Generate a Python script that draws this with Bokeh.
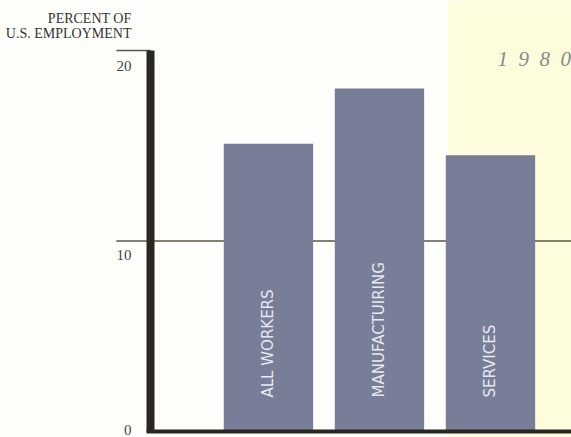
import math
from bokeh.plotting import figure
from bokeh.models import Range1d, BoxAnnotation, Label, ColumnDataSource
from bokeh.core.properties import value
from bokeh.embed import file_html
from bokeh.resources import INLINE

# --- data ---------------------------------------------------------------
categories = ["ALL WORKERS", "MANUFACTUIRING", "SERVICES"]
percent = [15.1, 18.0, 14.5]
tick_values = [0, 10, 20]
tick_labels = ["0", "10", "20"]
panel_year = "1980"
y_title = ["PERCENT OF", "U.S. EMPLOYMENT"]

# --- styling ------------------------------------------------------------
PAPER = "#fefefb"
PANEL = "#fdfcdc"
BAR = "#787d98"
INK = "#2a2622"
RULE = "#5a5446"
SERIF = "Liberation Serif"

# layout in data units (x: one unit per category, y: percent)
X0, X1 = -1.414, 3.730          # horizontal extent of the plot
Y0, Y1 = -0.315, 22.625         # vertical extent of the plot
AXIS_X = -0.0626                # position of the heavy value axis
TICK_X = -0.37                  # outer end of the tick rules
LABEL_X = -0.234                # right edge of tick labels / title
PANEL_LEFT = 2.62               # start of the shaded 1980 panel

xs = list(range(1, len(categories) + 1))
src = ColumnDataSource(dict(x=xs, top=percent, name=categories))

p = figure(width=571, height=437, output_backend="svg", toolbar_location=None,
           x_range=Range1d(X0, X1), y_range=Range1d(Y0, Y1),
           x_axis_location=None, y_axis_location=None,
           min_border=0)
p.background_fill_color = PAPER
p.border_fill_color = PAPER
p.outline_line_color = None
p.grid.visible = False

# shaded panel for the 1980 column
p.add_layout(BoxAnnotation(left=PANEL_LEFT, fill_color=PANEL, fill_alpha=1.0,
                           line_color=None, level="underlay"))

# rules: tick at 20, tick + full-width rule at 10
max_tick = max(tick_values)
p.segment(x0=[TICK_X], y0=[max_tick], x1=[AXIS_X], y1=[max_tick],
          line_color=RULE, line_width=1.5)
p.segment(x0=[TICK_X], y0=[10], x1=[X1], y1=[10],
          line_color=RULE, line_width=1.5)

# bars
p.vbar(x="x", top="top", bottom=0, width=0.805, source=src,
       fill_color=BAR, line_color=None)

# heavy value axis and baseline
p.segment(x0=[AXIS_X], y0=[0], x1=[AXIS_X], y1=[max_tick],
          line_color=INK, line_width=8)
p.segment(x0=[AXIS_X - 0.036], y0=[0], x1=[X1], y1=[0],
          line_color=INK, line_width=4)

# category names written up the bars
p.text(x="x", y=0, text="name", source=src, angle=math.pi / 2,
       text_align="left", text_baseline="middle", y_offset=-34,
       text_font=value("DejaVu Sans"), text_font_size="15px",
       text_color="#e8e8ef")

# tick labels, set just under their rules
label_drop = {0: -1, 10: 14, 20: 15}
tick_src = ColumnDataSource(dict(
    x=[LABEL_X] * len(tick_values), y=tick_values, text=tick_labels,
    dy=[label_drop[v] for v in tick_values]))
p.text(x="x", y="y", text="text", source=tick_src, y_offset="dy",
       text_align="right", text_baseline="middle",
       text_font=value(SERIF), text_font_size="15px", text_color="#444444")

# axis title, two right-aligned lines
for i, line in enumerate(y_title):
    p.add_layout(Label(x=LABEL_X, y=21.66 - 0.79 * i, text=line,
                       text_align="right", text_baseline="alphabetic",
                       text_font=SERIF, text_font_size="14px",
                       text_color="#333333"))

# year heading in the shaded panel
p.add_layout(Label(x=3.063, y=19.53, text="\u2002".join(panel_year),
                   text_align="left", text_baseline="alphabetic",
                   text_font=SERIF, text_font_style="italic",
                   text_font_size="21px", text_color="#8a8a8a"))

open("out.html", "w").write(file_html(p, INLINE))
